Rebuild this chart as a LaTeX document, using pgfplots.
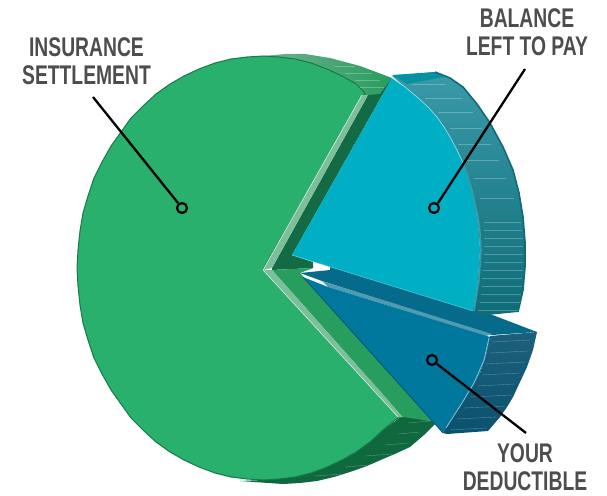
\documentclass[border=0pt]{standalone}
\usepackage{pgfplots}
\usepackage{fontspec}
\pgfplotsset{compat=1.18}
\setmainfont[FakeStretch=0.715]{Liberation Sans}

\definecolor{grn}{HTML}{2AB06D}
\definecolor{grnrim}{HTML}{157A4C}
\definecolor{grnwall}{HTML}{136B45}
\definecolor{grnwall2}{HTML}{279D5E}
\definecolor{grnside}{HTML}{10683F}
\definecolor{grnbev}{HTML}{7DBF9A}
\definecolor{tl}{HTML}{00AFC4}
\definecolor{tlside}{HTML}{3B9AA8}
\definecolor{tldark}{HTML}{0E6C78}
\definecolor{blu}{HTML}{00789E}
\definecolor{bluwall}{HTML}{066A8A}
\definecolor{bluside}{HTML}{0A5270}
\definecolor{blubev}{HTML}{4E9BB2}
\definecolor{lab}{HTML}{4D4D4D}

\newcommand{\poly}[2]{\addplot[fill=#1,draw=none] coordinates {#2} --cycle;}
\newcommand{\lab}[2]{\node[text=lab,font=\fontsize{27}{27}\selectfont\bfseries,inner sep=0pt] at (axis cs:#1) {#2};}

\begin{document}
\begin{tikzpicture}
\path[use as bounding box] (0,0) rectangle (607pt,495pt);
\begin{axis}[
    width=607pt, height=495pt, scale only axis, hide axis,
    xmin=0, xmax=607, ymin=0, ymax=495, y dir=reverse,
    clip=false, unbounded coords=jump,
]
% green side, top
\addplot[draw=none,left color=grn!60!gray!80!white,right color=grnwall2] coordinates {
 (263,56)(285,54)(305,54)(330,58)(360,66)(376,72)(392,78)(380,97)(365,97)(356,84)(342,76)(327,69)(311,63)(295,59)(279,57)} --cycle;
% green side, bottom
\poly{grnside}{(402,416)(437,422)(424,435)(410,447)(397,453)(383,459)(367,466)(350,472)(334,477)(317,481)(300,483)(283,484)(240,481)(263,480)(295,477)(327,467)(356,452)(383,430)}
% green notch walls
\poly{grnwall}{(272,268)(368,95)(380,94)(392,78)(292,255)(313,262)(313,268)(272,270)}
\poly{grnwall2}{(272,270)(313,268)(300,273)(428,413)(437,422)(403,417)}
% green face
\addplot[fill=grn,draw=grnrim,line width=1pt] coordinates {
 (263,269)(365,93)(356,84)(342,76)(327,69)(311,63)(295,59)(279,57)(263,56)(247,57)(231,59)(215,63)(199,69)(184,76)(170,84)(156,94)
 (143,106)(131,118)(121,132)(111,146)(102,162)(94,178)(88,196)(83,213)(80,231)(78,250)(77,268)
 (78,286)(80,305)(83,323)(88,340)(94,358)(102,374)(111,390)(121,404)(131,418)(143,430)(156,442)(170,452)(184,460)(199,467)(215,473)
 (231,477)(247,479)(263,480)(279,479)(295,477)(311,473)(327,467)(342,460)(356,452)(370,442)(383,430)(395,420)(402,416)} --cycle;
% green bevels
\poly{grnbev}{(263,270)(272,268)(368,95)(362,95)}
\poly{grnbev}{(263,270)(272,270)(403,417)(398,417)}
\addplot[draw=white!70!grnbev,line width=.6pt] coordinates {(263,270)(362,95)};
\addplot[draw=white!70!grnbev,line width=.6pt] coordinates {(263,270)(398,417)};
% blue wall
\poly{bluwall}{(330,265)(475,308)(490,314)(537,332)(492,335)(322,281)(300,273)(330,270)}
\poly{blubev}{(322,281)(492,334)(486,336)(328,287)}
% blue side
\addplot[draw=none,top color=bluside!92!white,bottom color=bluside] coordinates {
 (490,336)(537,332)(533,350)(527,367)(520,382)(513,397)(507,407)(500,417)(494,424)(488,431)(447,434)(443,433)(448,424)(453,415)(461,404)(468,393)(474,383)(480,373)(486,355)} --cycle;
\addplot[draw=white,opacity=.3,line width=.4pt] coordinates {
 (492,342)(530,340)(nan,nan)(490,353)(528,351)(nan,nan)(485,364)(525,362)(nan,nan)(482,375)(520,373)(nan,nan)
 (477,386)(515,384)(nan,nan)(470,397)(512,395)(nan,nan)(464,408)(505,406)(nan,nan)(457,419)(497,417)(nan,nan)(450,430)(487,428)};
% blue face
\poly{blu}{(303,277)(328,287)(490,337)(486,355)(480,373)(474,383)(468,393)(461,404)(453,415)(448,424)(443,433)}
\addplot[draw=white!60!blu,line width=.7pt] coordinates {(489,338)(484,360)(474,383)(462,403)(446,428)};
\addplot[draw=bluside,line width=.7pt] coordinates {(303,277)(443,433)};
% teal side
\addplot[draw=none,top color=tlside,bottom color=tldark] coordinates {
 (392,76)(435,72)(450,78)(463,87)(477,104)(490,123)(503,147)(513,170)(519,193)(523,217)(525,242)(525,267)(523,290)(518,312)(477,316)(473,311)
 (478,280)(480,250)(479,233)(477,217)(475,204)(472,190)(468,177)(463,163)(457,150)(450,137)(444,127)(437,117)(428,107)(417,97)(405,87)} --cycle;
\poly{tl!55!tldark}{(392,75)(435,72)(444,77)(407,84)}
\addplot[draw=tldark,line width=1.6pt] coordinates {(435,72)(450,78)(463,87)(477,104)(490,123)(503,147)(513,170)(519,193)(523,217)(525,242)(525,267)(523,290)(518,312)};
\addplot[draw=white,opacity=.25,line width=.4pt] coordinates {
 (484,222)(521,222)(nan,nan)(484,230)(522,230)(nan,nan)(484,238)(523,238)(nan,nan)(484,246)(523,246)(nan,nan)
 (484,254)(523,254)(nan,nan)(484,262)(523,262)(nan,nan)(483,270)(523,270)(nan,nan)(482,278)(522,278)(nan,nan)
 (482,286)(522,286)(nan,nan)(481,294)(521,294)(nan,nan)(480,302)(520,302)(nan,nan)(478,310)(518,310)(nan,nan)
 (412,84)(445,84)(nan,nan)(425,98)(462,98)(nan,nan)(438,112)(473,112)(nan,nan)(450,128)(482,128)(nan,nan)
 (458,144)(491,144)(nan,nan)(466,160)(499,160)(nan,nan)(474,178)(506,178)(nan,nan)(480,198)(514,198)};
% teal face
\poly{tl}{(292,255)(392,78)(405,87)(417,97)(428,107)(437,117)(444,127)(450,137)(457,150)(463,163)(468,177)(472,190)(475,204)(477,217)(479,233)(480,250)(478,280)(473,311)}
\addplot[draw=white!55!tl,line width=.7pt] coordinates {(392,78)(405,87)(417,97)(428,107)(437,117)(444,127)(450,137)(457,150)(463,163)};
\addplot[draw=tlside,line width=1.6pt] coordinates {(463,163)(468,177)(472,190)(475,204)(478,217)(480,233)(481,250)(479,280)(474,311)};
\addplot[draw=white!35!tl,line width=.5pt] coordinates {(292,255)(473,311)};
% green side stripes
\addplot[draw=white,opacity=.3,line width=.4pt] coordinates {
 (408,423)(430,421)(nan,nan)(398,434)(420,432)(nan,nan)(385,445)(408,443)(nan,nan)(365,456)(392,454)(nan,nan)
 (345,467)(370,465)(nan,nan)(315,476)(342,474)};
\addplot[draw=white,opacity=.25,line width=.4pt] coordinates {
 (335,66)(355,66)(nan,nan)(345,73)(372,73)(nan,nan)(355,80)(380,80)(nan,nan)(360,87)(384,87)};
% leaders
\addplot[draw=black,line width=2.3pt] coordinates {(93,97)(178,203)};
\addplot[draw=black,line width=2.3pt] coordinates {(525,69)(438,203)};
\addplot[draw=black,line width=2.3pt] coordinates {(437,364)(526,433)};
\addplot[only marks,mark=o,mark size=5pt,mark options={draw=black,line width=2.2pt}] coordinates {(182,208)(434,208)(432,360)};
% labels
\lab{86.5,47}{INSURANCE}
\lab{86.5,75}{SETTLEMENT}
\lab{527,18}{BALANCE}
\lab{527,46}{LEFT TO PAY}
\lab{525,453}{YOUR}
\lab{525,481}{DEDUCTIBLE}
\end{axis}
\end{tikzpicture}
\end{document}
